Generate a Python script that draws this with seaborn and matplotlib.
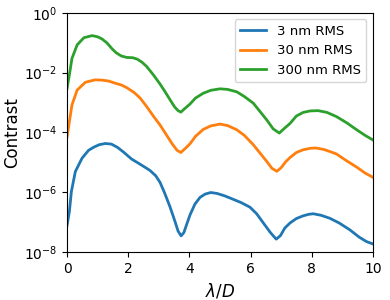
import numpy as np
import pandas as pd
import seaborn as sns
import matplotlib
matplotlib.use("Agg")
import matplotlib.pyplot as plt

# values (x in lambda/D, contrast given as log10)
x_3nm = [0.0, 0.075, 0.14, 0.27, 0.49, 0.7, 0.86, 1.05, 1.25, 1.45, 1.65, 1.85,
         2.11, 2.4, 2.71, 2.9, 3.04, 3.2, 3.37, 3.52, 3.63, 3.73, 3.82, 3.92,
         4.02, 4.18, 4.35, 4.52, 4.7, 4.9, 5.15, 5.44, 5.7, 5.98, 6.2, 6.42,
         6.65, 6.84, 6.98, 7.12, 7.29, 7.5, 7.72, 7.9, 8.05, 8.3, 8.59, 8.9,
         9.25, 9.55, 9.79, 10.0]
log_3nm = [-7.1, -6.65, -5.98, -5.31, -4.86, -4.6, -4.5, -4.41, -4.37, -4.39,
           -4.5, -4.66, -4.89, -5.07, -5.27, -5.45, -5.67, -6.05, -6.5, -6.95,
           -7.3, -7.46, -7.35, -7.05, -6.76, -6.4, -6.17, -6.06, -6.01, -6.04,
           -6.12, -6.24, -6.35, -6.5, -6.72, -7.03, -7.35, -7.57, -7.45, -7.2,
           -7.03, -6.88, -6.79, -6.74, -6.72, -6.77, -6.87, -7.03, -7.26, -7.5,
           -7.65, -7.73]

x_30nm = [0.0, 0.075, 0.16, 0.33, 0.6, 0.92, 1.15, 1.36, 1.6, 1.77, 1.95, 2.2,
          2.39, 2.6, 2.82, 3.04, 3.26, 3.45, 3.6, 3.72, 3.85, 4.02, 4.2, 4.45,
          4.7, 5.0, 5.25, 5.55, 5.8, 6.09, 6.31, 6.53, 6.7, 6.86, 7.0, 7.15,
          7.29, 7.5, 7.72, 7.95, 8.14, 8.4, 8.6, 8.81, 9.1, 9.47, 9.75, 10.0]
log_30nm = [-4.15, -3.64, -3.08, -2.58, -2.32, -2.24, -2.25, -2.28, -2.36, -2.41,
            -2.5, -2.67, -2.85, -3.13, -3.45, -3.75, -4.1, -4.4, -4.6, -4.67,
            -4.55, -4.38, -4.13, -3.9, -3.78, -3.72, -3.77, -3.91, -4.1, -4.41,
            -4.69, -4.97, -5.2, -5.3, -5.18, -4.98, -4.84, -4.67, -4.58, -4.53,
            -4.52, -4.57, -4.64, -4.72, -4.92, -5.16, -5.36, -5.5]

x_300nm = [0.0, 0.075, 0.16, 0.33, 0.55, 0.82, 1.0, 1.14, 1.3, 1.47, 1.6, 1.77,
           1.95, 2.15, 2.3, 2.45, 2.6, 2.82, 3.04, 3.2, 3.37, 3.52, 3.63, 3.72,
           3.85, 4.02, 4.2, 4.45, 4.7, 5.0, 5.25, 5.55, 5.8, 6.09, 6.31, 6.53,
           6.74, 6.94, 7.1, 7.29, 7.5, 7.72, 7.95, 8.21, 8.5, 8.81, 9.15, 9.47,
           9.75, 10.0]
log_300nm = [-2.52, -2.07, -1.52, -1.07, -0.83, -0.76, -0.8, -0.87, -1.0, -1.2,
             -1.33, -1.44, -1.49, -1.5, -1.55, -1.65, -1.79, -2.07, -2.38, -2.63,
             -2.91, -3.15, -3.27, -3.32, -3.2, -3.05, -2.85, -2.69, -2.59, -2.54,
             -2.56, -2.64, -2.8, -3.02, -3.3, -3.58, -3.88, -4.02, -3.87, -3.7,
             -3.45, -3.33, -3.28, -3.27, -3.33, -3.47, -3.68, -3.91, -4.1, -4.25]

labels = ["3 nm RMS", "30 nm RMS", "300 nm RMS"]

frames = []
for lab, xs, ls in zip(labels, [x_3nm, x_30nm, x_300nm], [log_3nm, log_30nm, log_300nm]):
    frames.append(pd.DataFrame({"x": xs, "contrast": 10.0 ** np.array(ls), "rms": lab}))
df = pd.concat(frames, ignore_index=True)

fig, ax = plt.subplots(figsize=(3.9, 3.0), dpi=100)
sns.lineplot(data=df, x="x", y="contrast", hue="rms", hue_order=labels,
             palette=["#1f77b4", "#ff7f0e", "#2ca02c"], linewidth=2, ax=ax)

ax.set_yscale("log")
ax.set_ylim(1e-8, 1e0)
ax.set_xlim(0, 10)
ax.set_yticks([1e-8, 1e-6, 1e-4, 1e-2, 1e0])
ax.yaxis.set_minor_locator(matplotlib.ticker.NullLocator())
ax.set_xticks([0, 2, 4, 6, 8, 10])
ax.tick_params(labelsize=10)
ax.set_xlabel(r"$\lambda/D$", fontsize=12)
ax.set_ylabel("Contrast", fontsize=12, labelpad=2)
ax.legend(loc="upper right", fontsize=9.5)

fig.subplots_adjust(left=0.172, right=0.956, top=0.957, bottom=0.16)
fig.savefig("out.png", dpi=100)
